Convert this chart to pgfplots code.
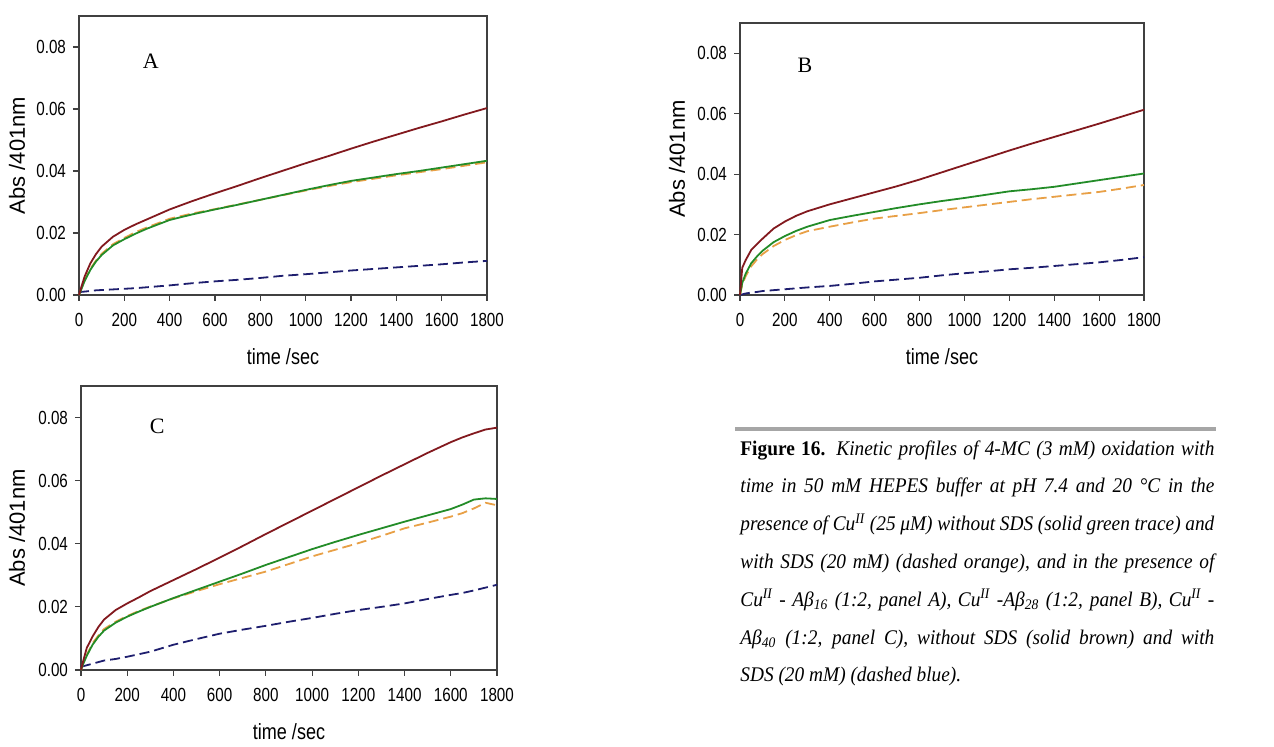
\documentclass[border=0pt]{standalone}
\usepackage{fontspec}
\setmainfont{Liberation Serif}
\newfontfamily\capfont[FakeStretch=0.93]{Liberation Serif}
\newfontfamily\arial{Liberation Sans}
\newfontfamily\arialn[FakeStretch=0.8]{Liberation Sans}
\newfontfamily\ariall[FakeStretch=0.82]{Liberation Sans}
\usepackage{pgfplots}
\usepackage{pgfplotstable}
\pgfplotsset{compat=1.18}

\definecolor{cbrown}{RGB}{130,25,30}
\definecolor{cgreen}{RGB}{35,140,40}
\definecolor{corange}{RGB}{232,160,70}
\definecolor{cnavy}{RGB}{30,30,110}

\newcommand\capline[1]{\makebox[237pt][s]{#1}\\}

% t, brown (Cu-Abeta), green (Cu), orange (Cu+SDS), navy (Cu-Abeta+SDS)
\pgfplotstableread{
t    br     gr     or     nv
0    0.0000 0.0000 0.0000 0.0010
10   0.0025 0.0018 0.0020 0.0010
25   0.0060 0.0045 0.0048 0.0011
50   0.0102 0.0081 0.0085 0.0013
75   0.0132 0.0108 0.0111 0.0015
100  0.0156 0.0129 0.0133 0.0016
150  0.0188 0.0160 0.0164 0.0018
200  0.0210 0.0180 0.0184 0.0020
250  0.0228 0.0198 0.0203 0.0022
300  0.0244 0.0214 0.0218 0.0025
400  0.0276 0.0242 0.0246 0.0031
500  0.0303 0.0260 0.0263 0.0038
600  0.0328 0.0276 0.0277 0.0044
700  0.0352 0.0291 0.0292 0.0049
800  0.0377 0.0307 0.0307 0.0055
900  0.0401 0.0323 0.0322 0.0062
1000 0.0425 0.0339 0.0337 0.0067
1100 0.0448 0.0354 0.0351 0.0073
1200 0.0472 0.0368 0.0364 0.0079
1300 0.0495 0.0379 0.0375 0.0084
1400 0.0517 0.0390 0.0386 0.0089
1500 0.0539 0.0400 0.0396 0.0094
1600 0.0560 0.0411 0.0406 0.0099
1700 0.0582 0.0422 0.0417 0.0105
1800 0.0603 0.0433 0.0428 0.0110
}\dataA

\pgfplotstableread{
t    br     gr     or     nv
0    0.0000 0.0000 0.0000 0.0000
10   0.0090 0.0040 0.0035 0.0002
25   0.0115 0.0070 0.0062 0.0005
50   0.0149 0.0105 0.0095 0.0008
75   0.0168 0.0127 0.0117 0.0010
100  0.0186 0.0146 0.0135 0.0013
150  0.0220 0.0175 0.0162 0.0016
200  0.0243 0.0195 0.0182 0.0019
250  0.0262 0.0212 0.0198 0.0022
300  0.0277 0.0226 0.0211 0.0025
400  0.0300 0.0248 0.0226 0.0030
500  0.0320 0.0262 0.0240 0.0037
600  0.0340 0.0275 0.0253 0.0045
700  0.0360 0.0288 0.0262 0.0051
800  0.0382 0.0300 0.0271 0.0057
900  0.0406 0.0311 0.0281 0.0065
1000 0.0430 0.0321 0.0290 0.0072
1100 0.0454 0.0332 0.0299 0.0078
1200 0.0478 0.0343 0.0308 0.0085
1300 0.0501 0.0350 0.0317 0.0090
1400 0.0523 0.0358 0.0325 0.0096
1500 0.0545 0.0369 0.0333 0.0102
1600 0.0567 0.0380 0.0341 0.0108
1700 0.0590 0.0391 0.0352 0.0116
1800 0.0613 0.0402 0.0364 0.0125
}\dataB

\pgfplotstableread{
t    br     gr     or     nv
0    0.0000 0.0000 0.0000 0.0010
10   0.0030 0.0020 0.0022 0.0012
25   0.0070 0.0045 0.0048 0.0015
50   0.0106 0.0080 0.0085 0.0020
75   0.0136 0.0105 0.0109 0.0025
100  0.0160 0.0125 0.0130 0.0030
150  0.0190 0.0150 0.0153 0.0035
200  0.0211 0.0169 0.0171 0.0042
250  0.0230 0.0185 0.0187 0.0050
300  0.0250 0.0200 0.0201 0.0058
400  0.0285 0.0228 0.0227 0.0080
500  0.0320 0.0254 0.0250 0.0098
600  0.0356 0.0280 0.0272 0.0115
700  0.0393 0.0306 0.0292 0.0128
800  0.0431 0.0333 0.0312 0.0140
900  0.0468 0.0358 0.0336 0.0153
1000 0.0505 0.0383 0.0360 0.0165
1100 0.0542 0.0406 0.0381 0.0178
1200 0.0579 0.0428 0.0402 0.0190
1300 0.0616 0.0449 0.0425 0.0200
1400 0.0652 0.0470 0.0449 0.0211
1500 0.0688 0.0490 0.0467 0.0225
1600 0.0722 0.0510 0.0486 0.0238
1650 0.0737 0.0524 0.0497 0.0244
1700 0.0750 0.0540 0.0512 0.0252
1750 0.0762 0.0544 0.0530 0.0261
1800 0.0768 0.0542 0.0522 0.0270
}\dataC

\pgfplotsset{
  panel/.style={
    scale only axis,
    anchor=south west,
    xmin=0, xmax=1800, ymin=0, ymax=0.09,
    xtick={0,200,...,1800},
    ytick={0,0.02,...,0.08},
    scaled y ticks=false,
    yticklabel style={/pgf/number format/.cd, fixed, fixed zerofill, precision=2},
    xticklabel style={yshift=-2.7pt, /pgf/number format/.cd, fixed, 1000 sep={}},
    /pgf/number format/assume math mode=true,
    tick label style={font=\arialn\fontsize{9.5}{11}\selectfont},
    xlabel style={font=\ariall\fontsize{11}{12}\selectfont},
    ylabel style={font=\arial\fontsize{11}{12}\selectfont},
    xlabel={time /sec},
    ylabel={Abs /401nm},
    tick align=outside,
    xtick pos=left, ytick pos=left,
    major tick length=3pt,
    axis line style={black!75, line width=0.6pt},
    every tick/.style={black!75, line width=0.6pt},
    clip=false,
  },
  brw/.style={cbrown, line width=0.9pt},
  grn/.style={cgreen, line width=0.9pt},
  org/.style={corange, line width=0.9pt, dash pattern=on 5pt off 2.5pt},
  nvy/.style={cnavy, line width=0.9pt, dash pattern=on 5pt off 2.5pt},
}

\begin{document}
\begin{tikzpicture}
\path (0,0) rectangle (637pt,371.5pt);

% panel A
\begin{axis}[panel, at={(39.5pt,224pt)}, width=204pt, height=139.5pt,
  xlabel style={at={(axis description cs:0.5,-0.222)}, anchor=center},
  ylabel style={at={(axis description cs:-0.152,0.5)}, anchor=center}]
\addplot[nvy] table[x=t, y=nv] {\dataA};
\addplot[org] table[x=t, y=or] {\dataA};
\addplot[grn] table[x=t, y=gr] {\dataA};
\addplot[brw] table[x=t, y=br] {\dataA};
\node[font=\fontsize{11}{12}\selectfont] at (rel axis cs:0.176,0.839) {A};
\end{axis}

% panel B
\begin{axis}[panel, at={(370pt,224pt)}, width=202pt, height=136pt,
  xlabel style={at={(axis description cs:0.5,-0.228)}, anchor=center},
  ylabel style={at={(axis description cs:-0.156,0.5)}, anchor=center}]
\addplot[nvy] table[x=t, y=nv] {\dataB};
\addplot[org] table[x=t, y=or] {\dataB};
\addplot[grn] table[x=t, y=gr] {\dataB};
\addplot[brw] table[x=t, y=br] {\dataB};
\node[font=\fontsize{11}{12}\selectfont] at (rel axis cs:0.161,0.846) {B};
\end{axis}

% panel C
\begin{axis}[panel, at={(40.5pt,36.5pt)}, width=208pt, height=142pt,
  xlabel style={at={(axis description cs:0.5,-0.218)}, anchor=center},
  ylabel style={at={(axis description cs:-0.154,0.5)}, anchor=center}]
\addplot[nvy] table[x=t, y=nv] {\dataC};
\addplot[org] table[x=t, y=or] {\dataC};
\addplot[grn] table[x=t, y=gr] {\dataC};
\addplot[brw] table[x=t, y=br] {\dataC};
\node[font=\fontsize{11}{12}\selectfont] at (rel axis cs:0.183,0.859) {C};
\end{axis}

% caption
\draw[black!35, line width=2pt] (367.5pt,157pt) -- (608pt,157pt);
\node[anchor=north west, inner sep=0pt, align=left,
      font=\capfont\fontsize{10.4}{18.9}\selectfont\itshape] at (370pt,151.5pt) {%
\capline{\textbf{\upshape Figure 16.} Kinetic profiles of 4-MC (3 mM) oxidation with}
\capline{time in 50 mM HEPES buffer at pH 7.4 and 20 °C in the}
\capline{presence of Cu\textsuperscript{II} (25 μM) without SDS (solid green trace) and}
\capline{with SDS (20 mM) (dashed orange), and in the presence of}
\capline{Cu\textsuperscript{II} - Aβ\textsubscript{16} (1:2, panel A), Cu\textsuperscript{II} -Aβ\textsubscript{28} (1:2, panel B), Cu\textsuperscript{II} -}
\capline{Aβ\textsubscript{40} (1:2, panel C), without SDS (solid brown) and with}
SDS (20 mM) (dashed blue).};
\end{tikzpicture}
\end{document}
